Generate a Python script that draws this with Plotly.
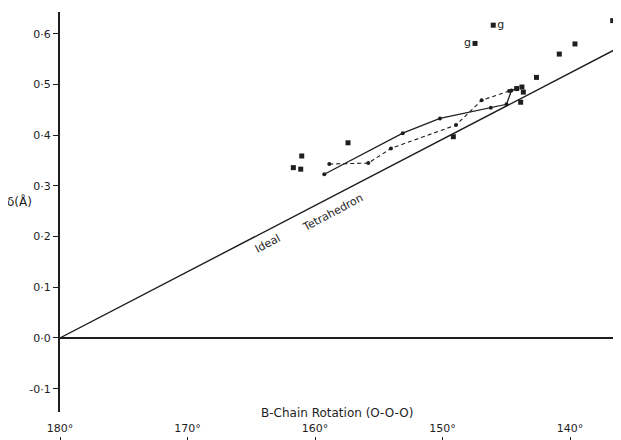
import plotly.graph_objects as go

# ---- data ----
# isolated observations (x = B-chain rotation in degrees, delta in Angstrom)
scatter_rot = [161.70, 161.12, 161.04, 157.41, 149.15, 143.87, 142.63,
               140.84, 139.61, 136.65, 144.18, 143.77, 143.66]
scatter_delta = [0.336, 0.333, 0.359, 0.385, 0.397, 0.465, 0.514,
                 0.560, 0.580, 0.626, 0.492, 0.495, 0.485]

# points marked "g"
g_rot = [147.45, 146.02]
g_delta = [0.581, 0.617]
g_labels = ["g", "g"]
g_textpos = ["middle left", "middle right"]

# solid connected series
solid_rot = [159.27, 153.12, 150.20, 146.21, 144.98, 144.59]
solid_delta = [0.323, 0.404, 0.433, 0.454, 0.461, 0.488]

# dashed connected series
dashed_rot = [158.88, 155.82, 154.04, 148.94, 146.93, 144.78, 144.18]
dashed_delta = [0.343, 0.345, 0.374, 0.420, 0.469, 0.487, 0.492]

# ideal tetrahedron reference line
ideal_rot = [180, 136]
ideal_delta = [0.0, 0.575]

x_ticks = [180, 170, 160, 150, 140]
x_ticktext = ["180°", "170°", "160°", "150°", "140°"]
y_ticks = [-0.1, 0.0, 0.1, 0.2, 0.3, 0.4, 0.5, 0.6]
y_ticktext = ["-0·1", "0·0", "0·1", "0·2", "0·3", "0·4", "0·5", "0·6"]

INK = "#1e1e1e"
FONT = "DejaVu Sans"

fig = go.Figure()

fig.add_trace(go.Scatter(x=ideal_rot, y=ideal_delta, mode="lines",
                         line=dict(color=INK, width=1.4), hoverinfo="skip"))
fig.add_trace(go.Scatter(x=solid_rot, y=solid_delta, mode="lines+markers",
                         line=dict(color=INK, width=1.3),
                         marker=dict(color=INK, size=4, symbol="circle")))
fig.add_trace(go.Scatter(x=dashed_rot, y=dashed_delta, mode="lines+markers",
                         line=dict(color=INK, width=1.1, dash="4px,3px"),
                         marker=dict(color=INK, size=4, symbol="circle")))
fig.add_trace(go.Scatter(x=scatter_rot, y=scatter_delta, mode="markers",
                         marker=dict(color=INK, size=5, symbol="square")))
fig.add_trace(go.Scatter(x=g_rot, y=g_delta, mode="markers+text",
                         text=g_labels, textposition=g_textpos,
                         textfont=dict(family=FONT, size=11, color=INK),
                         marker=dict(color=INK, size=5, symbol="square")))
# invisible trace for the lower tick axis
fig.add_trace(go.Scatter(x=x_ticks, y=[None] * len(x_ticks), xaxis="x2",
                         mode="markers", showlegend=False, hoverinfo="skip"))

fig.add_annotation(text="Ideal", x=163.69, y=0.187, xref="x", yref="y",
                   textangle=-28, showarrow=False,
                   font=dict(family=FONT, size=11, color=INK))
fig.add_annotation(text="Tetrahedron", x=158.59, y=0.2485, xref="x", yref="y",
                   textangle=-28, showarrow=False,
                   font=dict(family=FONT, size=11, color=INK))
fig.add_annotation(text="B-Chain Rotation (O-O-O)", x=0.494, y=0.054,
                   xref="paper", yref="paper", showarrow=False,
                   xanchor="center", yanchor="middle",
                   font=dict(family=FONT, size=12, color=INK))
fig.add_annotation(text="δ(Å)", x=-0.073, y=0.552,
                   xref="paper", yref="paper", showarrow=False,
                   xanchor="center", yanchor="middle",
                   font=dict(family=FONT, size=12, color=INK))

fig.update_layout(
    width=613, height=432,
    margin=dict(l=52, r=0, t=4, b=4, autoexpand=False),
    paper_bgcolor="white", plot_bgcolor="white",
    showlegend=False,
    font=dict(family=FONT, color=INK),
    xaxis=dict(range=[180, 136], domain=[0, 1], anchor="y", automargin=False,
               showgrid=False, zeroline=False, showline=False,
               ticks="", tickvals=x_ticks, ticktext=x_ticktext,
               tickfont=dict(family=FONT, size=11, color=INK),
               ticklabelstandoff=8),
    xaxis2=dict(range=[180, 136], overlaying="x", anchor="free", position=0,
                side="bottom", showgrid=False, zeroline=False, showline=False,
                automargin=False,
                ticks="outside", ticklen=4, tickwidth=1.2, tickcolor=INK,
                tickvals=x_ticks, showticklabels=False),
    yaxis=dict(range=[-0.146, 0.643], domain=[0.0566, 1], automargin=False,
               showgrid=False, zeroline=True, zerolinecolor=INK,
               zerolinewidth=1.5, showline=True, linecolor=INK, linewidth=2,
               ticks="outside", ticklen=5, tickwidth=1.2, tickcolor=INK,
               tickvals=y_ticks, ticktext=y_ticktext,
               tickfont=dict(family=FONT, size=11, color=INK)),
)

fig.write_html("out.html")
